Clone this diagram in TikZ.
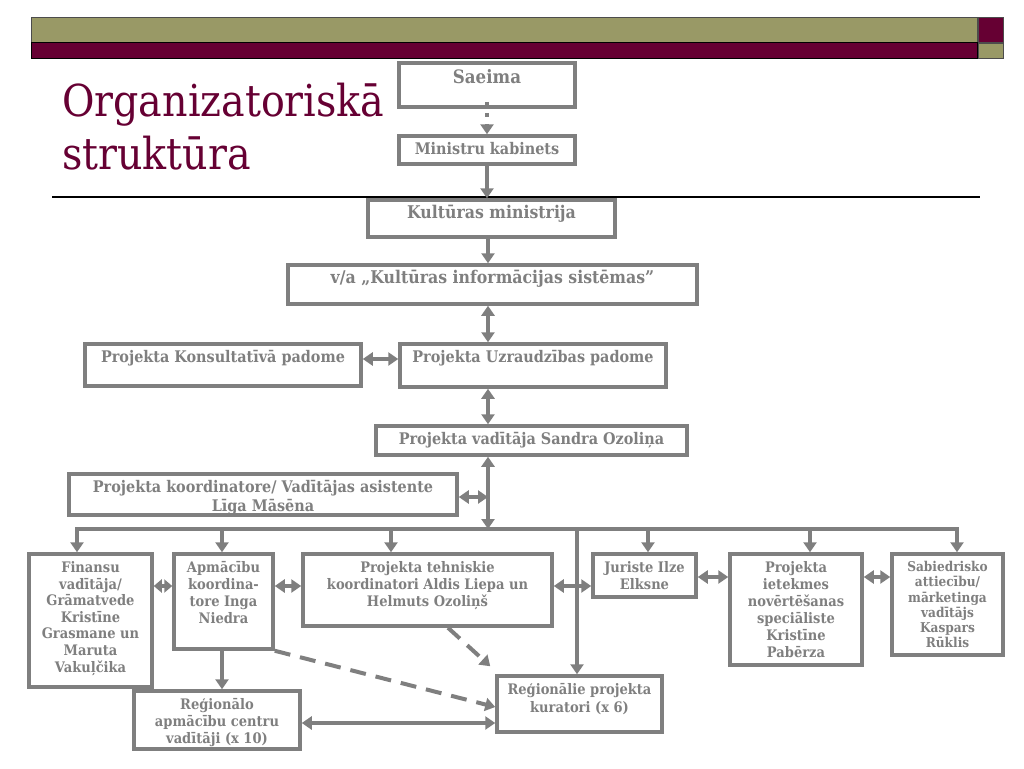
\documentclass[tikz,border=0pt]{standalone}
\usepackage{fontspec}
\setmainfont{DejaVu Serif}[FakeStretch=0.9]
\usetikzlibrary{arrows.meta}
\definecolor{boxgray}{RGB}{127,127,127}
\definecolor{barolive}{RGB}{153,153,102}
\definecolor{barplum}{RGB}{102,0,51}
\tikzset{
    every label/.append style={text=boxgray, align=center, inner sep=0pt,
    	font=\bfseries\fontsize{16}{19}\selectfont},
    intop/.style={anchor=north, yshift=-8pt},
    rowtxt/.style={intop, yshift=-1pt, font=\bfseries\fontsize{14.5}{17}\selectfont},
    box/.style={rectangle, draw=boxgray, fill=white, line width=3.5pt, inner sep=0pt}
}
\tikzset{
    link/.style={draw=boxgray, line width=4pt, -{Triangle[length=10pt,width=13pt]}},
    both/.style={link, {Triangle[length=10pt,width=13pt]}-{Triangle[length=10pt,width=13pt]}},
    shortboth/.style={link, {Triangle[length=8pt,width=13pt]}-{Triangle[length=8pt,width=13pt]}},
    plain/.style={draw=boxgray, line width=4pt, line cap=rect}
}

\begin{document}
\begin{tikzpicture}[x=1pt, y=-1pt]
	\useasboundingbox (0,0) rectangle (1024,768);
	% top bar
	\fill[barolive, draw=black!70] (31,17) rectangle (977,42);
	\fill[barplum, draw=black] (31,42) rectangle (977,58);
	\fill[barplum, draw=black!70] (978,17) rectangle (1003,42);
	\fill[barolive, draw=black!70] (978,43) rectangle (1003,58);
	\draw[line width=1.2pt] (52,197) -- (980,197);
	
	\node (title) [anchor=north west, align=left, text=barplum, inner sep=0pt,
		font=\fontsize{44}{53}\selectfont] at (62,83) {Organizatoriskā\\struktūra};
	
	\node (saeima) [box, minimum width=176, minimum height=44,
		label={[intop, font=\bfseries\fontsize{18.5}{22}\selectfont]north:Saeima}] at (487,85) {};
	\node (kabinets) [box, minimum width=176, minimum height=28,
		label={[intop]north:Ministru kabinets}] at (487,150) {};
	\node (kultmin) [box, minimum width=247, minimum height=37,
		label={[intop, yshift=1pt, font=\bfseries\fontsize{17.5}{21}\selectfont]north:Kultūras ministrija}] at (491.5,218.5) {};
	\node (kis) [box, minimum width=409, minimum height=39,
		label={[intop, yshift=1pt, font=\bfseries\fontsize{17.5}{21}\selectfont]north:{v/a „Kultūras informācijas sistēmas”}}] at (492.5,284.5) {};
	\node (konsult) [box, minimum width=276, minimum height=42,
		label={[intop]north:Projekta Konsultatīvā padome}] at (223,365) {};
	\node (uzraudz) [box, minimum width=266, minimum height=43,
		label={[intop]north:Projekta Uzraudzības padome}] at (533,365.5) {};
	\node (vaditaja) [box, minimum width=311, minimum height=29,
		label={[intop]north:Projekta vadītāja Sandra Ozoliņa}] at (531.5,440.5) {};
	\node (koord) [box, minimum width=388, minimum height=41,
		label={[intop]north:Projekta koordinatore/ Vadītājas asistente\\Līga Māsēna}] at (263,494.5) {};
	
	\node (finansu) [box, minimum width=123, minimum height=133,
		label={[rowtxt, font=\bfseries\fontsize{14.5}{16.6}\selectfont]north:Finansu\\vadītāja/\\Grāmatvede\\Kristīne\\Grasmane un\\Maruta\\Vakuļčika}] at (90.5,620.5) {};
	\node (apmac) [box, minimum width=99, minimum height=95,
		label={[rowtxt]north:Apmācību\\koordina-\\tore Inga\\Niedra}] at (223.5,601.5) {};
	\node (tehn) [box, minimum width=249, minimum height=72,
		label={[rowtxt]north:Projekta tehniskie\\koordinatori Aldis Liepa un\\Helmuts Ozoliņš}] at (427.5,590) {};
	\node (jurist) [box, minimum width=103, minimum height=43,
		label={[rowtxt]north:Juriste Ilze\\Elksne}] at (644.5,575.5) {};
	\node (ietek) [box, minimum width=132, minimum height=111,
		label={[rowtxt]north:Projekta\\ietekmes\\novērtēšanas\\speciāliste\\Kristīne\\Pabērza}] at (796,609.5) {};
	\node (sabied) [box, minimum width=111, minimum height=101,
		label={[rowtxt, font=\bfseries\fontsize{13.5}{15.2}\selectfont]north:Sabiedrisko\\attiecību/\\mārketinga\\vadītājs\\Kaspars\\Rūklis}] at (947.5,604.5) {};
	\node (regapm) [box, minimum width=166, minimum height=58,
		label={[rowtxt]north:Reģionālo\\apmācību centru\\vadītāji (x 10)}] at (217,720) {};
	\node (kurat) [box, minimum width=165, minimum height=56,
		label={[rowtxt, font=\bfseries\fontsize{14.5}{18}\selectfont]north:Reģionālie projekta\\kuratori (x 6)}] at (579.5,704) {};
	
	% upper chain
	\draw[link, dash pattern=on 4pt off 7pt] ([yshift=7pt]saeima.south) -- (kabinets.north);
	\draw[link] (kabinets) -- (kabinets.south |- kultmin.north);
	\draw[link] (kultmin.south -| 488,0) -- (kis.north -| 488,0);
	\draw[both] (kis.south -| 488,0) -- (uzraudz.north -| 488,0);
	\draw[both] (konsult.east |- 0,359) -- (uzraudz.west |- 0,359);
	\draw[both] (uzraudz.south -| 488,0) -- (vaditaja.north -| 488,0);
	
	% bus
	\coordinate (bus-mid) at (488,529);
	\draw[both] (bus-mid |- vaditaja.south) -- (bus-mid);
	\draw[both] (koord.east |- 0,497) -- (bus-mid |- 0,497);
	\draw[plain] (77,529) -- (957,529);
	\foreach \x/\n in {77/finansu, 222/apmac, 391/tehn, 648/jurist, 810/ietek, 957/sabied, 577/kurat} {
		\coordinate (bus-\n) at (\x,529);
		\draw[link] (bus-\n) -- (bus-\n |- \n.north);
	}
	
	% row links
	\draw[shortboth] (finansu.east |- 0,586) -- (apmac.west |- 0,586);
	\draw[both] (apmac.east |- 0,586) -- (tehn.west |- 0,586);
	\draw[both] (tehn.east |- 0,586) -- (jurist.west |- 0,586);
	\draw[both] (jurist.east |- 0,577) -- (ietek.west |- 0,577);
	\draw[both] (ietek.east |- 0,577) -- (sabied.west |- 0,577);
	
	% lower part
	\draw[link] (apmac.south -| 222,0) -- (regapm.north -| 222,0);
	\draw[both] (regapm.east |- 0,723) -- (kurat.west |- 0,723);
	\draw[link, dash pattern=on 16pt off 10pt] (apmac.south east) -- (kurat.west |- 0,707);
	\draw[link, dash pattern=on 16pt off 10pt] (tehn.south -| 448,0) -- ([xshift=-5pt, yshift=8pt]kurat.north west);
\end{tikzpicture}
\end{document}
